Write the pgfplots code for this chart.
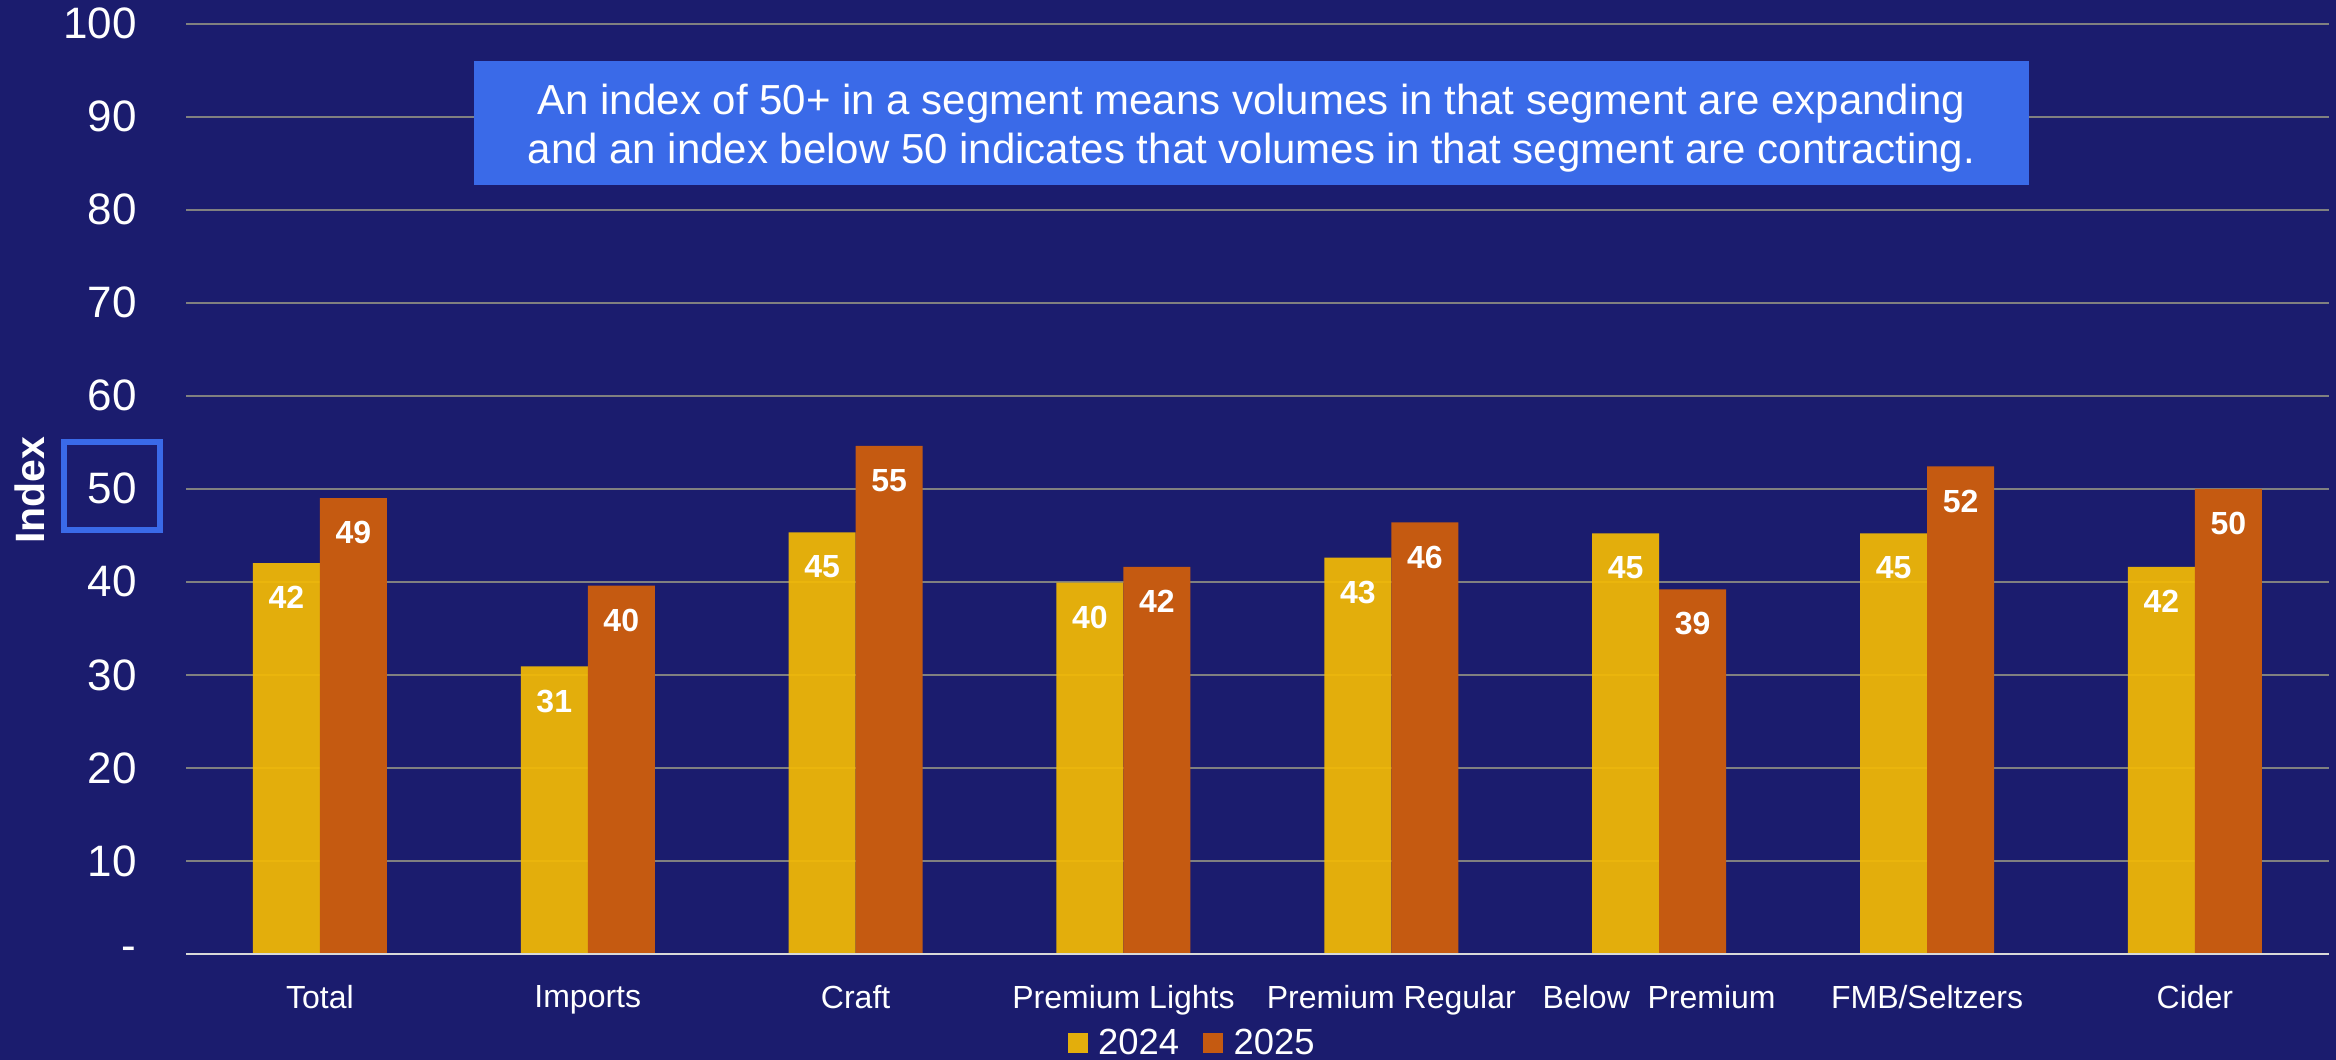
\documentclass[border=0pt]{standalone}
\usepackage{pgfplots}
\pgfplotsset{compat=1.18}
\usepackage{fontspec}
\setmainfont{Liberation Sans}

\definecolor{bgnavy}{RGB}{27,28,110}
\definecolor{boxblue}{RGB}{58,106,232}
\definecolor{bar24}{RGB}{243,186,5}
\definecolor{bar25}{RGB}{197,90,17}
\definecolor{gridgray}{RGB}{128,128,128}
\definecolor{basegray}{RGB}{217,217,217}

\begin{document}
\begin{tikzpicture}
\useasboundingbox (0,0) rectangle (1168pt,-530pt);
\fill[bgnavy] (0,0) rectangle (1168pt,-530pt);

\begin{axis}[
  at={(93pt,-477pt)}, anchor=south west,
  width=1071.5pt, height=465.25pt, scale only axis,
  ybar=0pt, bar width=33.5pt,
  xmin=-0.5, xmax=7.5, ymin=0, ymax=100,
  xtick={0,...,7},
  xticklabels={Total, Imports, Craft, Premium Lights, Premium Regular, Below~~Premium, FMB/Seltzers, Cider},
  ytick={0,10,...,100},
  yticklabels={-,10,20,30,40,50,60,70,80,90,100},
  major tick length=0pt,
  axis line style={draw=none},
  ymajorgrids, grid style={gridgray, line width=1pt},
  xticklabel style={font=\fontsize{16}{16}\selectfont, text=white, anchor=north, inner sep=0pt, yshift=-15.5pt},
  yticklabel style={font=\fontsize{22}{22}\selectfont, text=white, anchor=east, inner sep=0pt, xshift=-24.5pt},
  /pgf/number format/assume math mode=true,
  nodes near coords={\pgfmathprintnumber[fixed,precision=0]{\pgfplotspointmeta}},
  every node near coord/.append style={anchor=north, yshift=-11.5pt, inner sep=0pt, text=white, text opacity=1, font=\bfseries\fontsize{16}{16}\selectfont},
  legend style={at={(0.470,-0.096)}, anchor=center, draw=none, fill=none,
    legend columns=2, font=\fontsize{18.2}{18.2}\selectfont, text=white,
    /tikz/every even column/.append style={column sep=10pt}},
  legend image code/.code={\fill[#1] (0pt,-5pt) rectangle (10pt,5pt); \path (13.3pt,0pt);},
]
% 2024
\addplot[fill=bar24, fill opacity=0.93, draw=none] coordinates {
  (0,42.0) (1,30.9) (2,45.3) (3,39.9) (4,42.6) (5,45.2) (6,45.2) (7,41.6)};
% 2025
\addplot[fill=bar25, draw=none] coordinates {
  (0,49.0) (1,39.6) (2,54.6) (3,41.6) (4,46.4) (5,39.2) (6,52.4) (7,50.0)};
\legend{2024,2025}
\draw[basegray, line width=1.1pt] (rel axis cs:0,0) -- (rel axis cs:1,0);
\end{axis}

% axis title
\node[rotate=90, text=white, font=\bfseries\fontsize{20.5}{20.5}\selectfont] at (15pt,-245pt) {Index};
% highlight around the 50 threshold
\draw[boxblue, line width=3pt] (32pt,-221.15pt) rectangle (79.85pt,-264.85pt);
% explanatory note
\fill[boxblue] (237pt,-30.5pt) rectangle (1014.5pt,-92.5pt);
\node[align=center, text=white, font=\fontsize{21}{24.5}\selectfont, inner sep=0pt]
  at (625.75pt,-64pt)
  {An index of 50+ in a segment means volumes in that segment are expanding\\
   and an index below 50 indicates that volumes in that segment are contracting.};
\end{tikzpicture}
\end{document}
